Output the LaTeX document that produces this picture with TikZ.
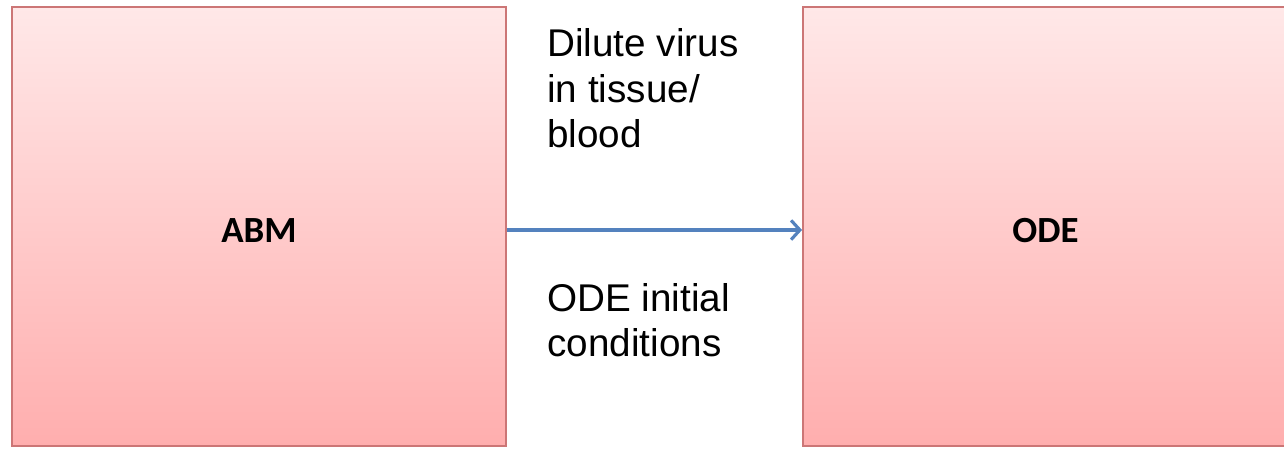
\documentclass[tikz,border=0pt]{standalone}
\usepackage{fontspec}
\setmainfont{Liberation Sans}
\newfontfamily\boxfont{Carlito}
\usepackage{tikz}
\usetikzlibrary{arrows.meta,positioning}

\definecolor{boxline}{RGB}{204,118,118}
\definecolor{boxtop}{RGB}{255,232,232}
\definecolor{boxbottom}{RGB}{255,174,174}
\definecolor{linkblue}{RGB}{84,130,190}

\begin{document}
\begin{tikzpicture}[
    model/.style={
        draw=boxline,
        line width=1.1pt,
        rectangle,
        top color=boxtop,
        bottom color=boxbottom,
        minimum height=8.78cm,
        inner sep=0pt,
        text height=0.65cm,
        text depth=0pt,
        font=\boxfont\bfseries\fontsize{21}{25}\selectfont
    },
    arrow/.style={
        -{Straight Barb[length=5pt,width=11pt]},
        draw=linkblue,
        line width=1.8pt
    },
    label/.style={
        anchor=base west,
        align=left,
        inner sep=0pt,
        font=\fontsize{22}{26}\selectfont
    }
]
\useasboundingbox (0,0) rectangle (25.68,8.98);

% Models
\node[model, minimum width=9.88cm] at (5.18,4.45)  (abm) {ABM};
\node[model, minimum width=9.7cm]  at (20.91,4.45) (ode) {ODE};

% Coupling
\draw[arrow] ([yshift=-2pt]abm.east) -- ([yshift=-2pt]ode.west);

% Labels on the coupling
\node[label] at (10.94,6.02) (virus) {Dilute virus\\in tissue/\\blood};
\node[label] at (10.94,1.84) (init)  {ODE initial\\conditions};

\end{tikzpicture}
\end{document}
